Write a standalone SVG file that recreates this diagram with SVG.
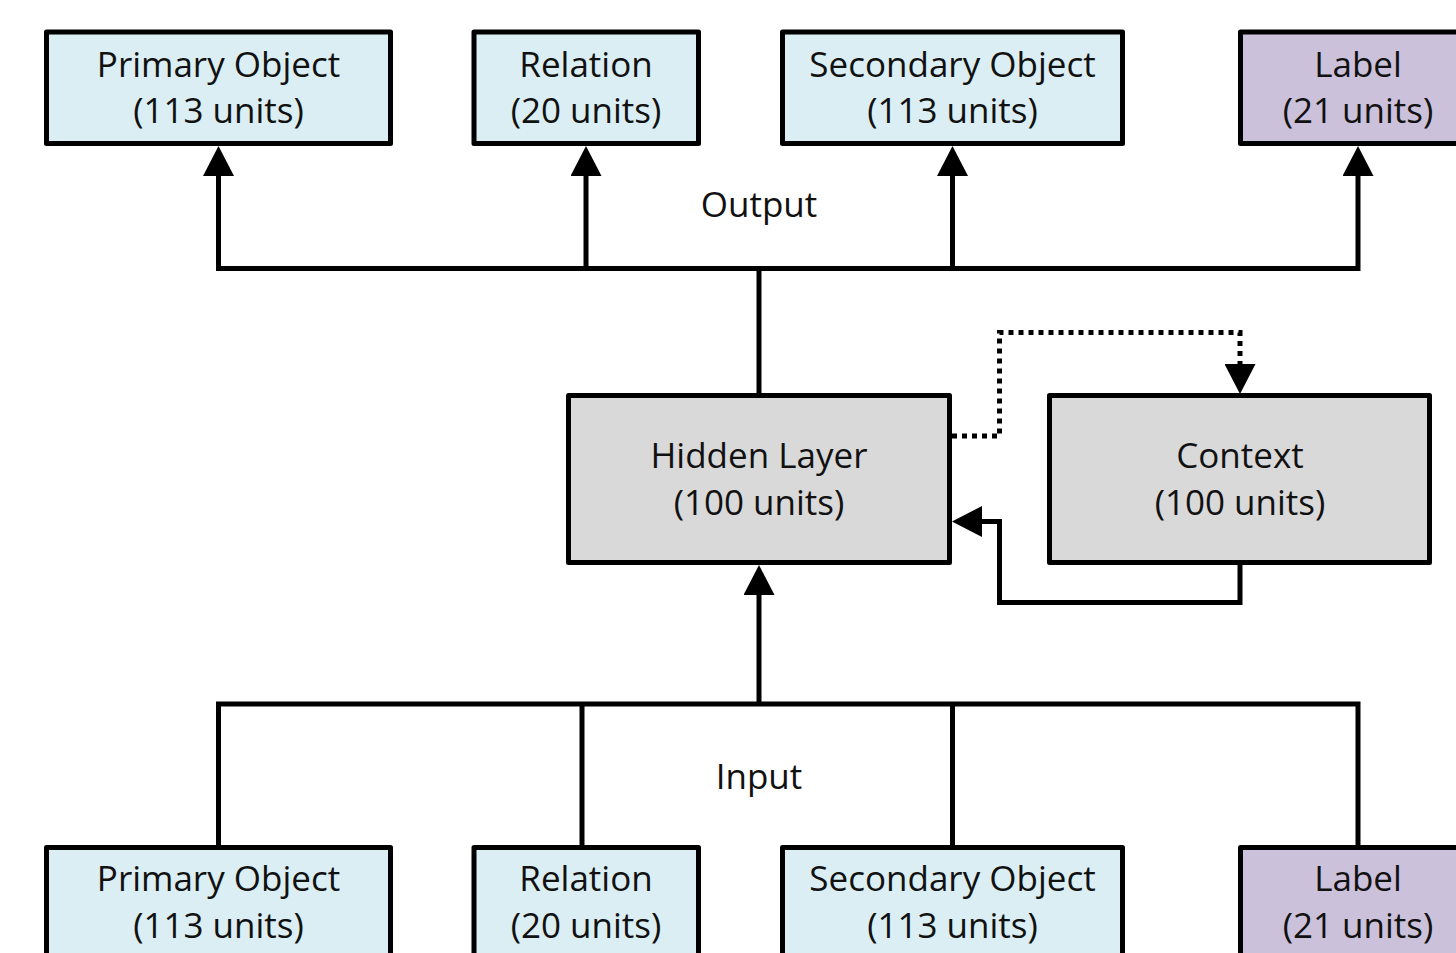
<svg xmlns="http://www.w3.org/2000/svg" width="1456" height="953" viewBox="0 0 1456 953">
<style>
.box{stroke:#000;stroke-width:5;stroke-linejoin:round}
.blue{fill:#DAEEF3}
.purple{fill:#CCC1DA}
.gray{fill:#D9D9D9}
text{font-family:"Open Sans","DejaVu Sans",sans-serif;font-size:35px;fill:#111;text-anchor:middle}
.ln{fill:none;stroke:#000;stroke-width:5;stroke-linejoin:miter}
.dot{fill:none;stroke:#000;stroke-width:5;stroke-dasharray:5 5}
</style>
<defs>
<marker id="ah" viewBox="0 0 30 31" refX="0" refY="15.5" markerWidth="30" markerHeight="31" markerUnits="userSpaceOnUse" orient="auto">
<path d="M0,0 L30,15.5 L0,31 z" fill="#000"/>
</marker>
</defs>
<rect width="1456" height="953" fill="#fff"/>
<g id="connectors">
<path class="ln" d="M218.5,268.5 H1358"/>
<path class="ln" d="M218.5,271 V176" marker-end="url(#ah)"/>
<path class="ln" d="M586,271 V176" marker-end="url(#ah)"/>
<path class="ln" d="M952.5,271 V176" marker-end="url(#ah)"/>
<path class="ln" d="M1358,271 V176" marker-end="url(#ah)"/>
<path class="ln" d="M759,268.5 V395"/>
<path class="dot" d="M952,436 H999.5 V332.5 H1240 V363"/>
<path class="ln" d="M1240,363 V364" marker-end="url(#ah)"/>
<path class="ln" d="M1240,563 V602.5 H999.5 V521.5 H982" marker-end="url(#ah)"/>
<path class="ln" d="M759,706 V595" marker-end="url(#ah)"/>
<path class="ln" d="M218.5,847 V704 H1358 V847"/>
<path class="ln" d="M582,704 V847"/>
<path class="ln" d="M952.5,704 V847"/>
<text x="759" y="217">Output</text>
<text x="759" y="789">Input</text>
</g>
<g id="out-primary"><rect class="box blue" x="46.5" y="32" width="344" height="111.5"/><text x="218.5" y="77">Primary Object</text><text x="218.5" y="123">(113 units)</text></g>
<g id="out-relation"><rect class="box blue" x="474" y="32" width="224.5" height="111.5"/><text x="586" y="77">Relation</text><text x="586" y="123">(20 units)</text></g>
<g id="out-secondary"><rect class="box blue" x="782.5" y="32" width="340" height="111.5"/><text x="952.5" y="77">Secondary Object</text><text x="952.5" y="123">(113 units)</text></g>
<g id="out-label"><rect class="box purple" x="1240.5" y="32" width="236" height="111.5"/><text x="1358" y="77">Label</text><text x="1358" y="123">(21 units)</text></g>
<g id="hidden"><rect class="box gray" x="568.5" y="395.5" width="381" height="167"/><text x="759" y="468">Hidden Layer</text><text x="759" y="515">(100 units)</text></g>
<g id="context"><rect class="box gray" x="1049.5" y="395.5" width="380" height="167"/><text x="1240" y="468">Context</text><text x="1240" y="515">(100 units)</text></g>
<g id="in-primary"><rect class="box blue" x="46.5" y="847.5" width="344" height="160"/><text x="218.5" y="891">Primary Object</text><text x="218.5" y="938">(113 units)</text></g>
<g id="in-relation"><rect class="box blue" x="474" y="847.5" width="224.5" height="160"/><text x="586" y="891">Relation</text><text x="586" y="938">(20 units)</text></g>
<g id="in-secondary"><rect class="box blue" x="782.5" y="847.5" width="340" height="160"/><text x="952.5" y="891">Secondary Object</text><text x="952.5" y="938">(113 units)</text></g>
<g id="in-label"><rect class="box purple" x="1240.5" y="847.5" width="236" height="160"/><text x="1358" y="891">Label</text><text x="1358" y="938">(21 units)</text></g>
</svg>
